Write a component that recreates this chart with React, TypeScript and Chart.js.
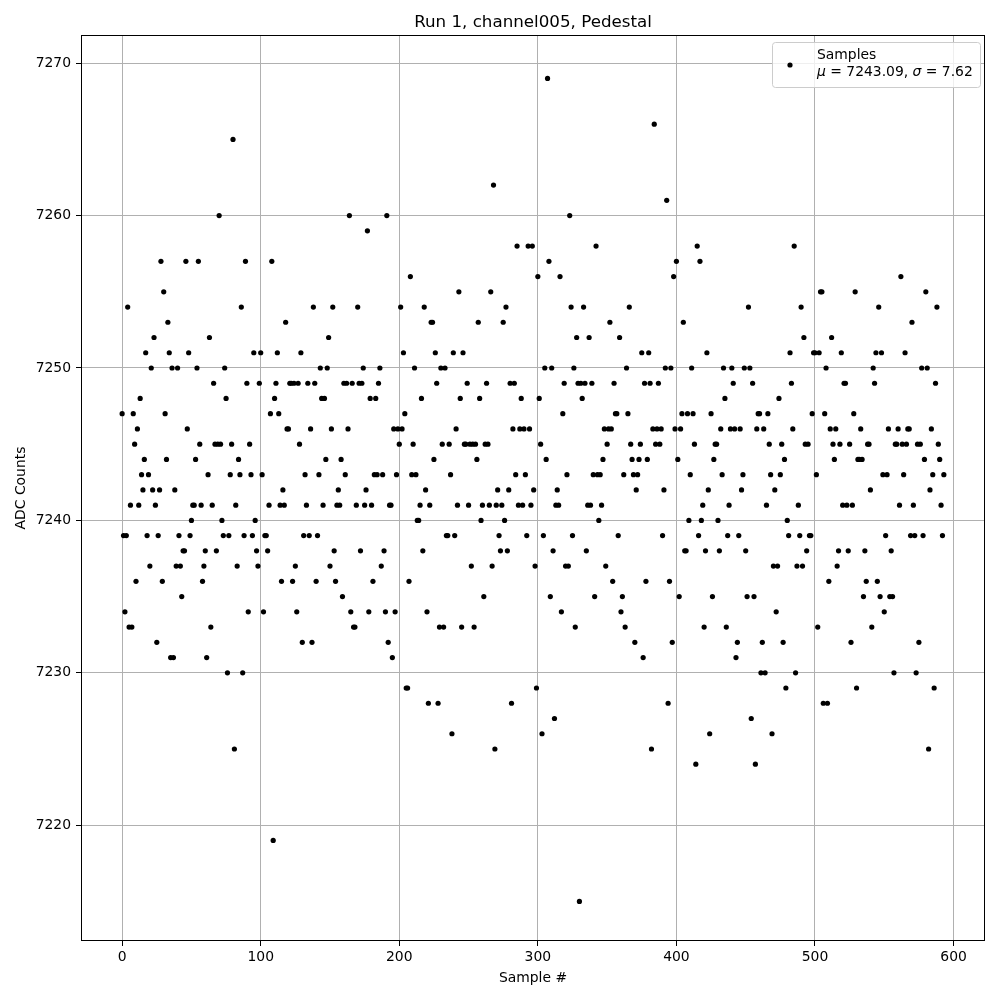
import React, { useEffect, useRef } from "react";
import { Chart, registerables } from "chart.js";

Chart.register(...registerables);

const adcCounts: number[] = [
  7247, 7239, 7234, 7239, 7254, 7233, 7241, 7233, 7247, 7245,
  7236, 7246, 7241, 7248, 7243, 7242, 7244, 7251, 7239, 7243,
  7237, 7250, 7242, 7252, 7241, 7232, 7239, 7242, 7257, 7236, 7255,
  7247, 7244, 7253, 7251, 7231, 7250, 7231, 7242, 7237, 7250,
  7239, 7237, 7235, 7238, 7238, 7257, 7246, 7251, 7239, 7240,
  7241, 7241, 7244, 7250, 7257, 7245, 7241, 7236, 7237, 7238,
  7231, 7243, 7252, 7233, 7241, 7249, 7245, 7238, 7245, 7260,
  7245, 7240, 7239, 7250, 7248, 7230, 7239, 7243, 7245, 7265,
  7225, 7241, 7237, 7244, 7243, 7254, 7230, 7239, 7257, 7249,
  7234, 7245, 7243, 7239, 7251, 7240, 7238, 7237, 7249, 7251, 7243,
  7234, 7239, 7239, 7238, 7241, 7247, 7257, 7219, 7248, 7249,
  7251, 7247, 7241, 7236, 7242, 7241, 7253, 7246, 7246, 7249,
  7249, 7236, 7249, 7237, 7234, 7249, 7245, 7251, 7232, 7239,
  7243, 7241, 7249, 7239, 7246, 7232, 7254, 7249, 7236, 7239,
  7243, 7250, 7248, 7241, 7248, 7244, 7250, 7252, 7237, 7246,
  7254, 7238, 7236, 7241, 7242, 7241, 7244, 7235, 7249, 7243,
  7249, 7246, 7260, 7234, 7249, 7233, 7233, 7241, 7254, 7249,
  7238, 7249, 7250, 7241, 7242, 7259, 7234, 7248, 7241, 7236,
  7243, 7248, 7243, 7249, 7250, 7237, 7243, 7238, 7234, 7260,
  7232, 7241, 7241, 7231, 7246, 7234, 7243, 7246, 7245, 7254,
  7246, 7251, 7247, 7229, 7229, 7236, 7256, 7243, 7245, 7250,
  7243, 7240, 7240, 7241, 7248, 7238, 7254, 7242, 7234, 7228,
  7241, 7253, 7253, 7244, 7251, 7249, 7228, 7233, 7250, 7245,
  7233, 7250, 7239, 7239, 7245, 7243, 7226, 7251, 7239, 7246,
  7241, 7255, 7248, 7233, 7251, 7245, 7245, 7249, 7241, 7245,
  7237, 7245, 7233, 7245, 7244, 7253, 7248, 7240, 7241, 7235,
  7245, 7249, 7245, 7241, 7255, 7237, 7262, 7225, 7241, 7242,
  7239, 7238, 7241, 7253, 7240, 7254, 7238, 7242, 7249, 7228,
  7246, 7249, 7243, 7258, 7241, 7246, 7248, 7241, 7246, 7243,
  7239, 7258, 7246, 7241, 7258, 7242, 7237, 7229, 7256, 7248,
  7245, 7226, 7239, 7250, 7244, 7269, 7257, 7235, 7250, 7238,
  7227, 7241, 7242, 7241, 7256, 7234, 7247, 7249, 7237, 7243,
  7237, 7260, 7254, 7239, 7250, 7233, 7252, 7249, 7215, 7249,
  7248, 7254, 7249, 7238, 7241, 7252, 7241, 7249, 7243, 7235,
  7258, 7243, 7240, 7243, 7241, 7244, 7246, 7237, 7245, 7246, 7253,
  7246, 7236, 7249, 7247, 7247, 7239, 7252, 7234, 7235, 7243,
  7233, 7250, 7247, 7254, 7245, 7244, 7243, 7232, 7242, 7243, 7244,
  7245, 7251, 7231, 7249, 7236, 7244, 7251, 7249, 7225, 7246, 7266,
  7245, 7246, 7249, 7245, 7246, 7239, 7242, 7250, 7261, 7228,
  7236, 7250, 7232, 7256, 7246, 7257, 7244, 7235, 7246, 7247,
  7253, 7238, 7238, 7247, 7240, 7243, 7250, 7247, 7245, 7224,
  7258, 7239, 7257, 7240, 7241, 7233, 7238, 7251, 7242, 7226,
  7247, 7235, 7244, 7245, 7245, 7240, 7238, 7246, 7243, 7250,
  7248, 7233, 7239, 7241, 7246, 7250, 7249, 7246, 7231, 7232,
  7239, 7246, 7242, 7243, 7250, 7238, 7235, 7254, 7250, 7227,
  7249, 7235, 7224, 7246, 7247, 7247, 7230, 7232, 7246, 7230,
  7241, 7247, 7245, 7243, 7226, 7237, 7242, 7234, 7237, 7248,
  7243, 7245, 7232, 7244, 7229, 7240, 7239, 7251, 7249, 7246,
  7258, 7230, 7237, 7241, 7239, 7254, 7237, 7252, 7245, 7238,
  7245, 7239, 7239, 7247, 7251, 7251, 7243, 7233, 7251, 7255,
  7255, 7228, 7247, 7250, 7228, 7236, 7246, 7252, 7245, 7244,
  7246, 7237, 7238, 7245, 7251, 7241, 7249, 7249, 7241, 7238,
  7245, 7232, 7241, 7247, 7255, 7229, 7244, 7244, 7246, 7244,
  7235, 7238, 7236, 7245, 7245, 7242, 7233, 7250, 7249, 7251,
  7236, 7254, 7235, 7251, 7243, 7234, 7239, 7243, 7246, 7235,
  7238, 7235, 7230, 7245, 7245, 7246, 7241, 7256, 7245, 7243,
  7251, 7245, 7246, 7246, 7239, 7253, 7241, 7239, 7230,
  7245, 7232, 7245, 7250, 7239, 7244, 7255, 7250, 7225, 7242,
  7246, 7243, 7229, 7249, 7254, 7245, 7244, 7241, 7239, 7243,
];

const sampleNumbers: number[] = adcCounts.map((_, i) => i);

const titleText = "Run 1, channel005, Pedestal";
const xLabelText = "Sample #";
const yLabelText = "ADC Counts";
const legendLabel = "Samples";
const legendMean = "7243.09";
const legendSigma = "7.62";

const xMin = -29.7;
const xMax = 622.7;
const yMin = 7212.4;
const yMax = 7271.85;
const xStep = 100;
const yStep = 10;

const FONT = "'DejaVu Sans', Arial, sans-serif";

const decorPlugin = {
  id: "decor",
  afterDraw(chart: any) {
    const { ctx, chartArea: a } = chart;
    ctx.save();
    ctx.strokeStyle = "#000";
    ctx.lineWidth = 1;
    ctx.strokeRect(Math.round(a.left) + 0.5, Math.round(a.top) + 0.5, Math.round(a.right - a.left) - 1, Math.round(a.bottom - a.top) - 1);

    ctx.fillStyle = "#000";
    ctx.textAlign = "center";
    ctx.textBaseline = "alphabetic";
    ctx.font = `16.7px ${FONT}`;
    ctx.fillText(titleText, (a.left + a.right) / 2, 27);

    ctx.font = `13.9px ${FONT}`;
    ctx.fillText(xLabelText, (a.left + a.right) / 2, 982);

    ctx.save();
    ctx.translate(25, (a.top + a.bottom) / 2);
    ctx.rotate(-Math.PI / 2);
    ctx.fillText(yLabelText, 0, 0);
    ctx.restore();

    const lx = 772, ly = 42, lw = 208, lh = 45;
    ctx.beginPath();
    (ctx as any).roundRect(lx + 0.5, ly + 0.5, lw, lh, 3);
    ctx.fillStyle = "rgba(255,255,255,0.8)";
    ctx.fill();
    ctx.strokeStyle = "#cccccc";
    ctx.lineWidth = 1;
    ctx.stroke();

    ctx.fillStyle = "#000";
    ctx.beginPath();
    ctx.arc(790, 65, 2.6, 0, Math.PI * 2);
    ctx.fill();

    ctx.textAlign = "left";
    ctx.font = `13.9px ${FONT}`;
    ctx.fillText(legendLabel, 817, 59);

    let x = 817;
    const by = 76;
    const parts: [string, boolean][] = [
      ["\u03bc", true],
      [" = " + legendMean + ", ", false],
      ["\u03c3", true],
      [" = " + legendSigma, false],
    ];
    for (const [t, it] of parts) {
      ctx.font = `${it ? "oblique " : ""}13.9px ${FONT}`;
      ctx.fillText(t, x, by);
      x += ctx.measureText(t).width;
    }
    ctx.restore();
  },
};

export default function App() {
  const ref = useRef<HTMLCanvasElement | null>(null);
  useEffect(() => {
    if (!ref.current) return;
    const points = adcCounts.map((v, i) => ({ x: sampleNumbers[i], y: v }));
    const chart = new Chart(ref.current, {
      type: "scatter",
      data: {
        datasets: [
          {
            label: legendLabel,
            data: points,
            pointRadius: 2.6,
            pointHoverRadius: 2.6,
            pointBorderWidth: 0,
            backgroundColor: "#000",
            borderColor: "#000",
          },
        ],
      },
      plugins: [decorPlugin],
      options: {
        responsive: false,
        animation: false,
        events: [],
        layout: { padding: { top: 35, right: 15, left: 0, bottom: 0 } },
        plugins: { legend: { display: false }, tooltip: { enabled: false }, title: { display: false } },
        scales: {
          x: {
            type: "linear",
            min: xMin,
            max: xMax,
            afterFit: (s: any) => {
              s.height = 59;
            },
            ticks: {
              stepSize: xStep,
              includeBounds: false,
              color: "#000",
              font: { family: FONT, size: 13.9 },
              padding: 3,
              maxRotation: 0,
              callback: (v: any) => String(v),
            },
            grid: { color: "#b0b0b0", lineWidth: 1, tickLength: 5, tickColor: "#000", drawTicks: true },
            border: { display: false },
          },
          y: {
            type: "linear",
            min: yMin,
            max: yMax,
            afterFit: (s: any) => {
              s.width = 81;
            },
            ticks: {
              stepSize: yStep,
              includeBounds: false,
              color: "#000",
              font: { family: FONT, size: 13.9 },
              padding: 5,
              callback: (v: any) => String(v),
            },
            grid: { color: "#b0b0b0", lineWidth: 1, tickLength: 5, tickColor: "#000", drawTicks: true },
            border: { display: false },
          },
        },
      },
    } as any);
    return () => chart.destroy();
  }, []);
  return (
    <div style={{ position: "fixed", left: 0, top: 0, width: 1000, height: 1000, background: "#fff" }}>
      <canvas ref={ref} width={1000} height={1000} style={{ width: 1000, height: 1000, display: "block" }} />
    </div>
  );
}
